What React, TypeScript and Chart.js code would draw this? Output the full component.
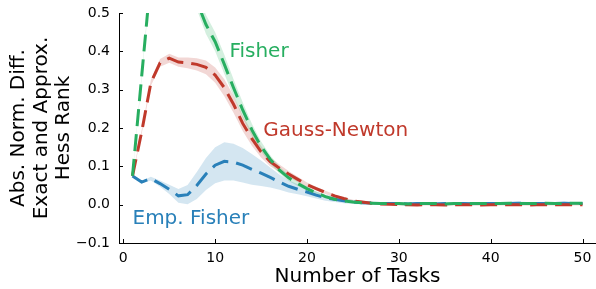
import React, { useEffect, useRef } from "react";
import { Chart, registerables } from "chart.js";

Chart.register(...registerables);

const tasks = [1, 2, 3, 4, 5, 6, 7, 8, 9, 10, 11, 12, 13, 14, 15, 16, 17, 18, 19, 20, 21, 22, 23, 24, 25, 26, 27, 28, 29, 30, 31, 32, 33, 34, 35, 36, 37, 38, 39, 40, 41, 42, 43, 44, 45, 46, 47, 48, 49, 50];

const empFisher = [0.075, 0.059, 0.068, 0.055, 0.04, 0.023, 0.026, 0.05, 0.08, 0.103, 0.113, 0.111, 0.103, 0.092, 0.082, 0.071, 0.059, 0.048, 0.04, 0.033, 0.025, 0.018, 0.014, 0.01, 0.007, 0.005, 0.004, 0.003, 0.003, 0.003, 0.002, 0.003, 0.003, 0.002, 0.003, 0.003, 0.003, 0.002, 0.003, 0.003, 0.003, 0.003, 0.004, 0.003, 0.003, 0.003, 0.003, 0.004, 0.003, 0.003];
const empFisherStd = [0.002, 0.003, 0.005, 0.008, 0.012, 0.018, 0.025, 0.035, 0.042, 0.047, 0.05, 0.048, 0.045, 0.04, 0.033, 0.026, 0.02, 0.016, 0.013, 0.011, 0.009, 0.008, 0.007, 0.006, 0.005, 0.004, 0.004, 0.004, 0.004, 0.004, 0.004, 0.004, 0.004, 0.004, 0.004, 0.004, 0.004, 0.004, 0.004, 0.004, 0.004, 0.004, 0.004, 0.004, 0.004, 0.004, 0.004, 0.004, 0.004, 0.004];

const gaussNewton = [0.075, 0.19, 0.318, 0.37, 0.382, 0.372, 0.37, 0.366, 0.358, 0.338, 0.305, 0.262, 0.212, 0.172, 0.138, 0.112, 0.095, 0.08, 0.066, 0.052, 0.042, 0.032, 0.023, 0.016, 0.01, 0.007, 0.004, 0.002, 0.001, 0.0, 0.0, -0.001, 0.0, 0.0, -0.001, 0.0, 0.0, 0.0, -0.001, 0.0, 0.0, 0.0, 0.0, -0.001, 0.0, 0.0, 0.0, 0.0, 0.0, 0.0];
const gaussNewtonStd = [0.002, 0.005, 0.008, 0.01, 0.012, 0.012, 0.014, 0.016, 0.018, 0.02, 0.022, 0.022, 0.02, 0.018, 0.015, 0.012, 0.01, 0.008, 0.007, 0.006, 0.005, 0.004, 0.004, 0.003, 0.003, 0.003, 0.002, 0.002, 0.002, 0.002, 0.002, 0.002, 0.002, 0.002, 0.002, 0.002, 0.002, 0.002, 0.002, 0.002, 0.002, 0.002, 0.002, 0.002, 0.002, 0.002, 0.002, 0.002, 0.002, 0.002];

const fisher = [0.075, 0.335, 0.595, 0.82, 0.93, 0.9, 0.75, 0.53, 0.47, 0.425, 0.366, 0.305, 0.247, 0.195, 0.152, 0.118, 0.09, 0.07, 0.055, 0.042, 0.031, 0.021, 0.014, 0.01, 0.007, 0.005, 0.004, 0.003, 0.003, 0.003, 0.002, 0.003, 0.003, 0.003, 0.002, 0.003, 0.003, 0.003, 0.003, 0.003, 0.003, 0.004, 0.003, 0.003, 0.003, 0.004, 0.003, 0.003, 0.004, 0.004];
const fisherStd = [0.003, 0.006, 0.008, 0.01, 0.012, 0.015, 0.018, 0.02, 0.025, 0.025, 0.025, 0.022, 0.02, 0.016, 0.013, 0.011, 0.009, 0.008, 0.006, 0.005, 0.004, 0.004, 0.003, 0.003, 0.003, 0.003, 0.003, 0.003, 0.003, 0.003, 0.003, 0.003, 0.003, 0.003, 0.003, 0.003, 0.003, 0.003, 0.003, 0.003, 0.003, 0.003, 0.003, 0.003, 0.003, 0.003, 0.003, 0.003, 0.003, 0.003];

const seriesNames = ["Emp. Fisher", "Gauss-Newton", "Fisher"];
const labelX = [1.0, 15.25, 11.55];
const labelY = [-0.036, 0.192, 0.398];

const xTickValues = [0, 10, 20, 30, 40, 50];
const yTickValues = [-0.1, 0.0, 0.1, 0.2, 0.3, 0.4, 0.5];

const COLORS = ["#2980b9", "#c0392b", "#27ae60"];
const BAND_COLORS = ["rgba(41,128,185,0.2)", "rgba(192,57,43,0.2)", "rgba(39,174,96,0.2)"];
const FONT = "'DejaVu Sans', sans-serif";

export default function App() {
  const ref = useRef<HTMLCanvasElement | null>(null);

  useEffect(() => {
    if (!ref.current) return;
    const means = [empFisher, gaussNewton, fisher];
    const stds = [empFisherStd, gaussNewtonStd, fisherStd];
    const pts = (arr: number[]) => tasks.map((t, i) => ({ x: t, y: arr[i] }));

    const lineSets: any[] = [2, 1, 0].map((k, j) => ({
      label: seriesNames[k],
      data: pts(means[k]),
      borderColor: COLORS[k],
      borderWidth: 3,
      borderDash: [17, 8],
      borderCapStyle: "butt",
      pointRadius: 0,
      fill: false,
      tension: 0,
      clip: 0,
      order: j,
    }));
    const bandSets: any[] = [];
    [2, 1, 0].forEach((k, j) => {
      const lowIdx = 3 + bandSets.length;
      bandSets.push({
        label: seriesNames[k] + " low",
        data: pts(means[k].map((m, i) => m - stds[k][i])),
        borderWidth: 0,
        pointRadius: 0,
        fill: false,
        clip: 0,
        order: 10 + j * 2,
      });
      bandSets.push({
        label: seriesNames[k] + " high",
        data: pts(means[k].map((m, i) => m + stds[k][i])),
        borderWidth: 0,
        pointRadius: 0,
        backgroundColor: BAND_COLORS[k],
        fill: lowIdx,
        clip: 0,
        order: 10 + j * 2,
      });
    });

    const decor = {
      id: "decor",
      afterDatasetsDraw(chart: any) {
        const { ctx, chartArea, scales } = chart;
        ctx.save();
        ctx.strokeStyle = "#000";
        ctx.lineWidth = 1;
        xTickValues.forEach((v) => {
          const px = Math.round(scales.x.getPixelForValue(v)) + 0.5;
          ctx.beginPath();
          ctx.moveTo(px, chartArea.bottom);
          ctx.lineTo(px, chartArea.bottom - 4);
          ctx.stroke();
        });
        yTickValues.forEach((v) => {
          const py = Math.round(scales.y.getPixelForValue(v)) + 0.5;
          ctx.beginPath();
          ctx.moveTo(chartArea.left, py);
          ctx.lineTo(chartArea.left + 4, py);
          ctx.stroke();
        });
        ctx.font = "20px " + FONT;
        ctx.textAlign = "left";
        ctx.textBaseline = "middle";
        seriesNames.forEach((name, k) => {
          ctx.fillStyle = COLORS[k];
          ctx.fillText(name, scales.x.getPixelForValue(labelX[k]), scales.y.getPixelForValue(labelY[k]));
        });
        ctx.restore();
      },
    };

    const chart = new Chart(ref.current, {
      type: "line",
      data: { datasets: [...lineSets, ...bandSets] },
      options: {
        animation: false,
        responsive: false,
        events: [],
        layout: { padding: { top: 13, right: 0, left: 0, bottom: 0 } },
        plugins: { legend: { display: false }, tooltip: { enabled: false } },
        scales: {
          x: {
            type: "linear",
            min: -0.47,
            max: 51.47,
            afterFit: (s: any) => {
              s.height = 46;
              s.paddingLeft = 0;
              s.paddingRight = 0;
            },
            ticks: {
              stepSize: 10,
              includeBounds: false,
              color: "#000",
              font: { family: FONT, size: 14 },
              padding: 7,
              maxRotation: 0,
            },
            grid: { drawOnChartArea: false, drawTicks: false },
            border: { display: true, color: "#000", width: 1 },
            title: {
              display: true,
              text: "Number of Tasks",
              color: "#000",
              font: { family: FONT, size: 20, lineHeight: 1.2 },
              padding: { top: 0, bottom: 0 },
            },
          },
          y: {
            type: "linear",
            min: -0.1,
            max: 0.5,
            afterFit: (s: any) => {
              s.width = 119;
              s.paddingTop = 0;
              s.paddingBottom = 0;
            },
            ticks: {
              stepSize: 0.1,
              color: "#000",
              font: { family: FONT, size: 14 },
              padding: 9,
              callback: (v: any) => {
                const n = Number(v);
                const s = Math.abs(n).toFixed(1);
                return n < -1e-9 ? "\u2212" + s : s;
              },
            },
            grid: { drawOnChartArea: false, drawTicks: false },
            border: { display: true, color: "#000", width: 1 },
            title: {
              display: true,
              text: ["Abs. Norm. Diff.", "Exact and Approx.", "Hess Rank"],
              color: "#000",
              font: { family: FONT, size: 20, lineHeight: 1.12 },
              padding: { top: 8, bottom: 0 },
            },
          },
        },
      } as any,
      plugins: [decor],
    });
    return () => chart.destroy();
  }, []);

  return (
    <div style={{ position: "fixed", left: 0, top: 0, width: 596, height: 289, background: "#fff" }}>
      <canvas ref={ref} width={596} height={289} style={{ width: 596, height: 289, display: "block" }} />
    </div>
  );
}
